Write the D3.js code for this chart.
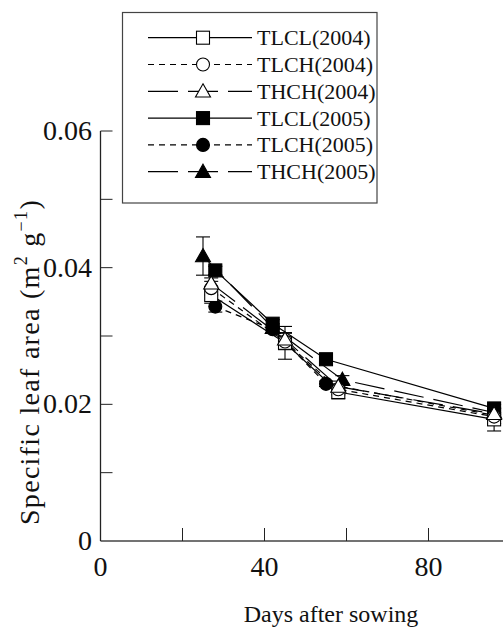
<!DOCTYPE html>
<html><head><meta charset="utf-8">
<script src="https://cdn.jsdelivr.net/npm/d3@7"></script>
<style>
html,body{margin:0;padding:0;background:#fff;}
svg{display:block;font-family:"Liberation Serif","Times New Roman",serif;}
</style></head>
<body><svg id="c" width="503" height="628"></svg>
<script>
// ---- data ----
const seriesNames = ["TLCL(2004)","TLCH(2004)","THCH(2004)","TLCL(2005)","TLCH(2005)","THCH(2005)"];
const daysTLCL2004 = [27, 45, 58, 96];
const daysTLCH2004 = [27, 45, 58, 96];
const daysTHCH2004 = [27, 45, 58, 96];
const daysTLCL2005 = [28, 42, 55, 96];
const daysTLCH2005 = [28, 42, 55, 96];
const daysTHCH2005 = [25, 42, 59, 96];
const valTLCL2004 = [0.0360, 0.0290, 0.0218, 0.0178];
const valTLCH2004 = [0.0370, 0.0292, 0.0222, 0.0182];
const valTHCH2004 = [0.0377, 0.0295, 0.0226, 0.0186];
const valTLCL2005 = [0.0396, 0.0318, 0.0266, 0.0194];
const valTLCH2005 = [0.0343, 0.0310, 0.0230, 0.0184];
const valTHCH2005 = [0.0417, 0.0312, 0.0236, 0.0188];
const errTLCL2004 = [0.0012, 0.0024, 0.0010, 0.0017];
const errTLCH2004 = [0.0010, 0.0012, 0.0008, 0.0010];
const errTHCH2004 = [0.0008, 0.0010, 0.0008, 0.0008];
const errTLCL2005 = [0.0006, 0.0006, 0.0004, 0.0006];
const errTLCH2005 = [0.0008, 0.0006, 0.0004, 0.0006];
const errTHCH2005 = [0.0028, 0.0006, 0.0006, 0.0006];
const xTicks = [0, 20, 40, 60, 80, 100];
const xTickLabels = ["0", "", "40", "", "80", ""];
const yTicks = [0, 0.01, 0.02, 0.03, 0.04, 0.05, 0.06];
const yTickLabels = ["0", "", "0.02", "", "0.04", "", "0.06"];

const series = [
  {name: seriesNames[0], days: daysTLCL2004, vals: valTLCL2004, err: errTLCL2004, shape: "square", filled: false, dash: null},
  {name: seriesNames[1], days: daysTLCH2004, vals: valTLCH2004, err: errTLCH2004, shape: "circle", filled: false, dash: "6,5"},
  {name: seriesNames[2], days: daysTHCH2004, vals: valTHCH2004, err: errTHCH2004, shape: "triangle", filled: false, dash: "30,10"},
  {name: seriesNames[3], days: daysTLCL2005, vals: valTLCL2005, err: errTLCL2005, shape: "square", filled: true, dash: null},
  {name: seriesNames[4], days: daysTLCH2005, vals: valTLCH2005, err: errTLCH2005, shape: "circle", filled: true, dash: "6,5"},
  {name: seriesNames[5], days: daysTHCH2005, vals: valTHCH2005, err: errTHCH2005, shape: "triangle", filled: true, dash: "30,10"}
];

// ---- layout ----
const svg = d3.select("#c");
const x = d3.scaleLinear().domain([0, 120]).range([100.5, 592.5]);
const y = d3.scaleLinear().domain([0, 0.06]).range([541, 131]);
const ink = "#000";
const axisCol = "#444";

// axes
const gA = svg.append("g");
gA.append("line").attr("x1", x(0)).attr("x2", 503).attr("y1", y(0)).attr("y2", y(0))
  .attr("stroke", axisCol).attr("stroke-width", 1.3);
gA.append("line").attr("x1", x(0)).attr("x2", x(0)).attr("y1", y(0)).attr("y2", y(0.06))
  .attr("stroke", "#222").attr("stroke-width", 1.3);
gA.selectAll(".xt").data(xTicks.slice(1)).enter().append("line")
  .attr("x1", d => x(d)).attr("x2", d => x(d)).attr("y1", y(0)).attr("y2", y(0) - 13)
  .attr("stroke", "#222").attr("stroke-width", 1);
gA.selectAll(".yt").data(yTicks.slice(1)).enter().append("line")
  .attr("x1", x(0)).attr("x2", x(0) + 12).attr("y1", d => y(d)).attr("y2", d => y(d))
  .attr("stroke", "#222").attr("stroke-width", 1);
gA.selectAll(".xl").data(xTicks).enter().append("text")
  .attr("x", d => x(d)).attr("y", 576).attr("text-anchor", "middle")
  .attr("font-size", 28).attr("fill", "#111").text((d, i) => xTickLabels[i]);
gA.selectAll(".yl").data(yTicks).enter().append("text")
  .attr("x", 92).attr("y", d => y(d) + 9).attr("text-anchor", "end")
  .attr("font-size", 28).attr("fill", "#111").text((d, i) => yTickLabels[i]);

// axis titles
svg.append("text").attr("x", 331).attr("y", 622).attr("text-anchor", "middle")
  .attr("font-size", 24).attr("fill", "#111").text("Days after sowing");
const yt = svg.append("text").attr("transform", "translate(39,362) rotate(-90)")
  .attr("text-anchor", "middle").attr("font-size", 28).attr("letter-spacing", 1.3).attr("fill", "#111");
yt.append("tspan").text("Specific leaf area (m");
yt.append("tspan").attr("dy", -12).attr("font-size", 18).text("2");
yt.append("tspan").attr("dy", 12).text(" g");
yt.append("tspan").attr("dy", -12).attr("font-size", 18).text("\u22121");
yt.append("tspan").attr("dy", 12).text(")");

// markers
function drawMarker(g, shape, filled, cx, cy) {
  const fill = filled ? ink : "#fff";
  if (shape === "square") {
    g.append("rect").attr("x", cx - 6.5).attr("y", cy - 6.5).attr("width", 13).attr("height", 13)
      .attr("fill", fill).attr("stroke", ink).attr("stroke-width", 1.1);
  } else if (shape === "circle") {
    g.append("circle").attr("cx", cx).attr("cy", cy).attr("r", 6.5)
      .attr("fill", fill).attr("stroke", ink).attr("stroke-width", 1.1);
  } else {
    const s = 7.5;
    g.append("path").attr("d", `M${cx},${cy - s} L${cx + s},${cy + s * 0.75} L${cx - s},${cy + s * 0.75} Z`)
      .attr("fill", fill).attr("stroke", ink).attr("stroke-width", 1.1);
  }
}

const line = d3.line().x(d => x(d[0])).y(d => y(d[1]));
const gL = svg.append("g");
series.forEach(s => {
  const pts = s.days.map((d, i) => [d, s.vals[i]]);
  gL.append("path").attr("d", line(pts)).attr("fill", "none").attr("stroke", ink)
    .attr("stroke-width", 1.2).attr("stroke-dasharray", s.dash);
});
const gE = svg.append("g");
series.forEach(s => {
  s.days.forEach((d, i) => {
    const e = s.err[i];
    if (!e) return;
    const cx = x(d), y1 = y(s.vals[i] - e), y2 = y(s.vals[i] + e);
    gE.append("line").attr("x1", cx).attr("x2", cx).attr("y1", y1).attr("y2", y2).attr("stroke", ink).attr("stroke-width", 1.1);
    [y1, y2].forEach(yy => gE.append("line").attr("x1", cx - 7).attr("x2", cx + 7).attr("y1", yy).attr("y2", yy).attr("stroke", ink).attr("stroke-width", 1.1));
  });
});
const gM = svg.append("g");
[3, 4, 5, 0, 1, 2].forEach(k => {
  const s = series[k];
  s.days.forEach((d, i) => drawMarker(gM, s.shape, s.filled, x(d), y(s.vals[i])));
});

// legend
const gLeg = svg.append("g");
gLeg.append("rect").attr("x", 122.5).attr("y", 12.5).attr("width", 254.5).attr("height", 190.5)
  .attr("fill", "#fff").attr("stroke", "#444").attr("stroke-width", 1.2);
const legY = d3.scaleLinear().domain([0, 5]).range([37.7, 171.7]);
series.forEach((s, i) => {
  const yy = legY(i);
  gLeg.append("line").attr("x1", 148).attr("x2", 252).attr("y1", yy).attr("y2", yy)
    .attr("stroke", ink).attr("stroke-width", 1.2).attr("stroke-dasharray", s.dash);
  drawMarker(gLeg, s.shape, s.filled, 203, yy);
  gLeg.append("text").attr("x", 257).attr("y", yy + 7.5).attr("font-size", 22).attr("fill", "#111").text(s.name);
});
</script></body></html>
